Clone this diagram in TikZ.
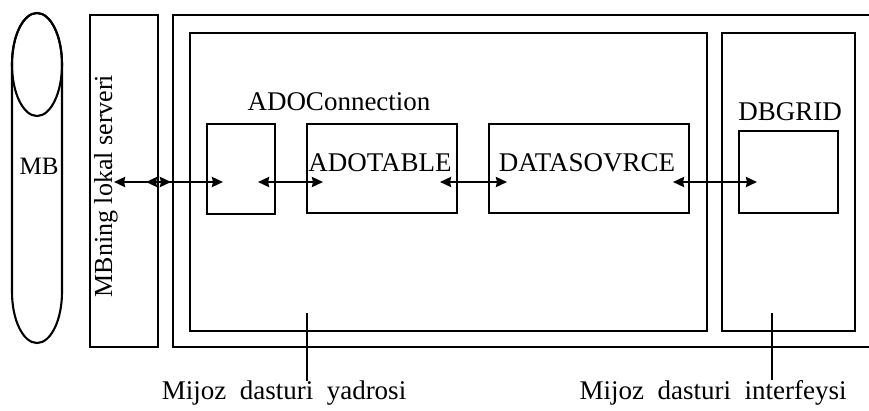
\documentclass[tikz,border=0pt]{standalone}
\usepackage{fontspec}
\setmainfont{Liberation Serif}
\usetikzlibrary{arrows.meta}
\begin{document}
\begin{tikzpicture}[x=1pt,y=-1pt,
  line join=miter,
  frame/.style={draw, line width=2.1pt},
  box/.style={draw, line width=2.1pt, anchor=north west, inner sep=0pt, outer sep=0pt},
  lbl/.style={inner sep=0pt, font=\fontsize{27}{30}\selectfont},
  conn/.style={line width=2.6pt, {Stealth[length=11pt,width=10pt,inset=1pt]}-{Stealth[length=11pt,width=10pt,inset=1pt]}},
  pin/.style={line width=1.8pt}]
\useasboundingbox (0,0) rectangle (869,410);
% database cylinder
\draw[frame] (12,64) arc[start angle=180,end angle=360,x radius=25,y radius=51]
  -- (62,292) arc[start angle=0,end angle=180,x radius=25,y radius=51] -- cycle;
\draw[frame] (37,64.5) ellipse[x radius=25,y radius=51.5];
\node[lbl, font=\fontsize{25}{28}\selectfont] (mb) at (39,166) {MB};
% local server
\node[box, minimum width=68pt, minimum height=332pt] (srv) at (90,15) {};
\node[lbl, rotate=90, font=\fontsize{26}{29}\selectfont] (srvt) at (106,186) {MBning lokal serveri};
% client program outer frame (open on the right)
\coordinate (otr) at (869,15);
\coordinate (otl) at (173,15);
\coordinate (obl) at (173,347);
\coordinate (obr) at (869,347);
\draw[frame] (otr) -- (otl) -- (obl) -- (obr);
% core and interface
\node[box, minimum width=517pt, minimum height=298pt] (core) at (190,33) {};
\node[box, minimum width=133pt, minimum height=298pt] (iface) at (722,33) {};
% components
\node[box, minimum width=68pt, minimum height=90pt] (adoc) at (207,124) {};
\node[lbl] (adoct) at (339,102) {ADOConnection};
\node[box, minimum width=150pt, minimum height=89pt] (adot) at (307,124) {};
\node[lbl] (adott) at (380,163) {ADOTABLE};
\node[box, minimum width=200pt, minimum height=89pt] (dsrc) at (489,124) {};
\node[lbl] (dsrct) at (587,163) {DATASOVRCE};
\node[box, minimum width=99pt, minimum height=82pt] (dbg) at (739,131) {};
\node[lbl] (dbgt) at (790,112) {DBGRID};
% connector end points
\coordinate (a1) at (114,182);
\coordinate (a2) at (146,182);
\coordinate (a3) at (171,182);
\coordinate (a4) at (223,182);
\coordinate (b1) at (258,182);
\coordinate (b2) at (323,182);
\coordinate (c1) at (440,182);
\coordinate (c2) at (507,182);
\coordinate (d1) at (673,182);
\coordinate (d2) at (757,182);
\draw[conn] (a1) -- (a3);
\draw[conn] (a2) -- (a4);
\draw[conn] (b1) -- (b2);
\draw[conn] (c1) -- (c2);
\draw[conn] (d1) -- (d2);
% bottom labels
\node[lbl] (coret) at (284,393) {Mijoz\ \ dasturi\ \ yadrosi};
\node[lbl] (ifacet) at (713,393) {Mijoz\ \ dasturi\ \ interfeysi};
\coordinate (p1) at (307,313);
\coordinate (p2) at (772,313);
\draw[pin] (p1) -- (p1 |- coret.north);
\draw[pin] (p2) -- (p2 |- ifacet.north);
\end{tikzpicture}
\end{document}
